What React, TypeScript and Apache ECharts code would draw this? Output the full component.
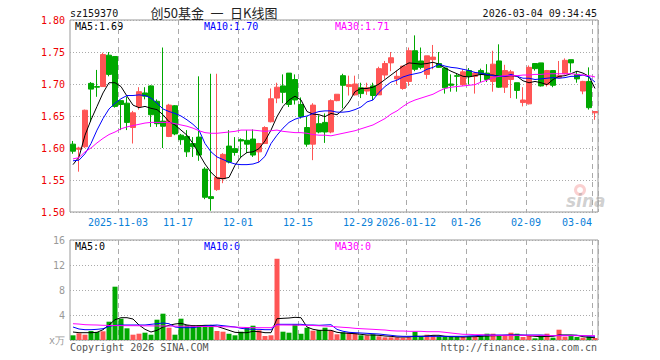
import React, { useEffect, useRef } from "react";
import * as echarts from "echarts";

const dates = [
  "2025-10-22","2025-10-23","2025-10-24","2025-10-27","2025-10-28","2025-10-29","2025-10-30","2025-10-31",
  "2025-11-03","2025-11-04","2025-11-05","2025-11-06","2025-11-07","2025-11-10","2025-11-11","2025-11-12","2025-11-13","2025-11-14",
  "2025-11-17","2025-11-18","2025-11-19","2025-11-20","2025-11-21","2025-11-24","2025-11-25","2025-11-26","2025-11-27","2025-11-28",
  "2025-12-01","2025-12-02","2025-12-03","2025-12-04","2025-12-05","2025-12-08","2025-12-09","2025-12-10","2025-12-11","2025-12-12",
  "2025-12-15","2025-12-16","2025-12-17","2025-12-18","2025-12-19","2025-12-22","2025-12-23","2025-12-24","2025-12-25","2025-12-26",
  "2025-12-29","2025-12-30","2025-12-31","2026-01-05","2026-01-06","2026-01-07","2026-01-08","2026-01-09",
  "2026-01-12","2026-01-13","2026-01-14","2026-01-15","2026-01-16","2026-01-19","2026-01-20","2026-01-21","2026-01-22","2026-01-23",
  "2026-01-26","2026-01-27","2026-01-28","2026-01-29","2026-01-30","2026-02-02","2026-02-03","2026-02-04","2026-02-05","2026-02-06",
  "2026-02-09","2026-02-10","2026-02-11","2026-02-12","2026-02-13","2026-02-24","2026-02-25","2026-02-26","2026-02-27",
  "2026-03-02","2026-03-03","2026-03-04"
];

const opens = [
  1.606,1.598,1.602,1.701,1.696,1.696,1.745,1.743,1.674,1.670,
  1.632,1.665,1.686,1.697,1.673,1.642,1.618,1.666,1.620,1.618,
  1.607,1.617,1.567,1.524,1.535,1.552,1.603,1.599,1.613,1.612,
  1.614,1.594,1.607,1.641,1.678,1.697,1.717,1.707,1.668,1.632,
  1.606,1.638,1.640,1.625,1.674,1.713,1.696,1.683,1.694,1.689,
  1.697,1.683,1.714,1.733,1.708,1.693,1.704,1.752,1.736,1.715,
  1.738,1.732,1.725,1.700,1.713,1.699,1.721,1.712,1.721,1.717,
  1.704,1.736,1.695,1.707,1.702,1.671,1.669,1.732,1.733,1.699,
  1.721,1.710,1.716,1.738,1.715,1.689,1.704,1.655
];
const closes = [
  1.595,1.600,1.659,1.692,1.695,1.746,1.715,1.665,1.668,1.640,
  1.655,1.688,1.681,1.652,1.638,1.634,1.667,1.622,1.613,1.594,
  1.602,1.589,1.523,1.521,1.554,1.590,1.578,1.593,1.611,1.606,
  1.589,1.607,1.632,1.677,1.695,1.687,1.668,1.675,1.649,1.606,
  1.667,1.625,1.625,1.674,1.684,1.698,1.699,1.700,1.685,1.694,
  1.682,1.724,1.732,1.741,1.712,1.728,1.752,1.723,1.726,1.744,
  1.742,1.726,1.694,1.698,1.712,1.719,1.712,1.717,1.715,1.707,
  1.731,1.695,1.721,1.719,1.690,1.675,1.726,1.724,1.697,1.721,
  1.698,1.713,1.737,1.733,1.708,1.704,1.663,1.657
];
const lows = [
  1.591,1.563,1.600,1.641,1.680,1.696,1.712,1.663,1.628,1.628,
  1.607,1.660,1.676,1.633,1.633,1.600,1.617,1.620,1.605,1.586,
  1.586,1.580,1.520,1.502,1.533,1.545,1.576,1.588,1.586,1.592,
  1.586,1.578,1.607,1.640,1.670,1.670,1.664,1.668,1.646,1.602,
  1.581,1.623,1.608,1.623,1.673,1.662,1.682,1.682,1.678,1.683,
  1.675,1.683,1.708,1.720,1.699,1.691,1.697,1.720,1.723,1.708,
  1.723,1.725,1.685,1.688,1.688,1.697,1.699,1.685,1.703,1.703,
  1.688,1.694,1.686,1.678,1.677,1.665,1.668,1.721,1.696,1.696,
  1.695,1.710,1.715,1.718,1.702,1.684,1.660,1.644
];
const highs = [
  1.611,1.602,1.660,1.703,1.722,1.749,1.750,1.743,1.674,1.680,
  1.658,1.695,1.695,1.698,1.676,1.757,1.669,1.667,1.622,1.628,
  1.617,1.712,1.570,1.716,1.716,1.592,1.628,1.617,1.615,1.628,
  1.629,1.608,1.634,1.693,1.702,1.715,1.717,1.715,1.679,1.649,
  1.670,1.651,1.654,1.676,1.684,1.716,1.713,1.713,1.702,1.702,
  1.702,1.727,1.736,1.750,1.721,1.728,1.757,1.776,1.757,1.744,
  1.761,1.750,1.725,1.715,1.716,1.723,1.725,1.719,1.724,1.731,
  1.752,1.762,1.730,1.722,1.702,1.695,1.729,1.732,1.733,1.722,
  1.721,1.736,1.740,1.738,1.720,1.705,1.726,1.657
];
const ma5 = [
  1.574,1.586,1.620,1.644,1.665,1.686,1.702,1.702,1.696,1.681,
  1.667,1.663,1.665,1.662,1.660,1.652,1.641,1.636,1.628,1.620,
  1.607,1.591,1.575,1.562,1.553,1.552,1.554,1.573,1.586,1.593,
  1.594,1.599,1.611,1.628,1.649,1.665,1.675,1.681,1.675,1.657,
  1.653,1.652,1.649,1.654,1.652,1.660,1.672,1.688,1.693,1.693,
  1.695,1.700,1.707,1.714,1.721,1.728,1.733,1.732,1.731,1.732,
  1.734,1.731,1.725,1.720,1.716,1.712,1.711,1.713,1.715,1.714,
  1.714,1.712,1.712,1.713,1.712,1.705,1.702,1.704,1.702,1.699,
  1.707,1.712,1.713,1.716,1.720,1.717,1.712,1.693
];
const ma10 = [
  1.580,1.581,1.591,1.607,1.628,1.646,1.661,1.670,1.677,1.682,
  1.682,1.683,1.682,1.678,1.670,1.661,1.657,1.654,1.650,1.644,
  1.637,1.628,1.607,1.594,1.586,1.582,1.578,1.575,1.574,1.574,
  1.575,1.578,1.587,1.607,1.620,1.631,1.640,1.645,1.648,1.650,
  1.654,1.657,1.658,1.658,1.656,1.656,1.657,1.660,1.664,1.672,
  1.675,1.687,1.696,1.703,1.706,1.711,1.714,1.716,1.718,1.723,
  1.726,1.731,1.728,1.726,1.725,1.723,1.721,1.718,1.717,1.715,
  1.713,1.712,1.712,1.715,1.712,1.709,1.709,1.707,1.708,1.709,
  1.710,1.709,1.710,1.712,1.712,1.714,1.711,1.703
];
const ma30 = [
  1.583,1.585,1.594,1.600,1.608,1.615,1.621,1.625,1.630,1.633,
  1.635,1.637,1.639,1.640,1.640,1.640,1.640,1.638,1.636,1.634,
  1.631,1.627,1.624,1.623,1.623,1.624,1.625,1.626,1.628,1.628,
  1.628,1.627,1.626,1.627,1.628,1.626,1.625,1.624,1.624,1.623,
  1.621,1.620,1.620,1.619,1.621,1.623,1.625,1.627,1.630,1.633,
  1.636,1.641,1.646,1.653,1.658,1.665,1.671,1.675,1.678,1.681,
  1.684,1.689,1.693,1.695,1.696,1.697,1.698,1.699,1.703,1.706,
  1.710,1.712,1.713,1.713,1.713,1.714,1.714,1.715,1.715,1.716,
  1.716,1.716,1.716,1.716,1.715,1.714,1.713,1.711
];
const volumes = [
  0.75,1.07,0.85,1.44,1.28,1.39,2.93,8.53,3.41,1.87,
  0.85,1.01,1.17,0.85,3.25,4.21,1.97,0.85,3.41,2.40,
  2.40,2.40,2.40,2.40,1.44,1.33,1.00,0.75,1.33,2.08,
  2.29,1.55,0.64,0.75,13.0,1.33,1.17,2.50,1.00,1.97,
  1.49,1.60,1.97,1.49,0.91,1.23,1.23,1.12,0.75,0.75,
  0.91,0.59,0.43,0.43,0.43,0.37,0.43,1.33,0.59,0.85,
  0.75,0.59,0.53,0.48,0.48,0.48,0.53,0.48,0.64,1.01,
  1.01,0.75,0.75,1.17,1.01,0.48,0.64,0.27,0.80,1.01,
  0.37,1.65,0.53,0.69,0.48,0.37,0.59,0.32
];
const volMa5 = [
  1.28,1.17,1.17,1.17,1.23,1.65,2.40,3.25,3.57,3.57,
  3.36,2.40,1.71,1.28,1.55,2.08,2.35,2.56,2.67,2.40,
  2.29,2.29,2.35,2.35,2.19,1.87,1.55,1.23,1.17,1.17,
  1.39,1.33,1.17,1.17,3.41,3.47,3.52,3.63,3.57,2.08,
  1.71,1.55,1.55,1.55,1.23,1.12,1.07,1.01,0.91,0.80,
  0.80,0.75,0.64,0.59,0.48,0.48,0.48,0.59,0.59,0.64,
  0.75,0.75,0.59,0.53,0.53,0.48,0.53,0.53,0.59,0.64,
  0.69,0.69,0.75,0.80,0.80,0.75,0.69,0.59,0.53,0.59,
  0.59,0.80,0.80,0.80,0.75,0.53,0.43,0.37
];
const volMa10 = [
  2.08,1.76,1.65,1.65,1.71,1.81,2.19,2.35,2.40,2.40,
  2.40,2.40,2.40,2.51,2.61,2.72,2.61,2.08,1.97,1.97,
  1.97,2.13,2.24,2.35,2.40,2.29,2.19,2.08,1.87,1.76,
  1.71,1.71,1.65,1.65,2.51,2.51,2.51,2.51,2.51,2.40,
  2.40,2.35,2.40,2.45,1.70,1.40,1.23,1.17,1.12,1.07,
  1.01,0.96,0.85,0.75,0.64,0.59,0.59,0.59,0.59,0.59,
  0.59,0.59,0.59,0.59,0.59,0.59,0.64,0.69,0.75,0.80,
  0.80,0.80,0.80,0.80,0.80,0.80,0.80,0.80,0.80,0.75,
  0.69,0.75,0.75,0.75,0.75,0.69,0.64,0.59
];
const volMa30 = [
  2.61,2.55,2.45,2.42,2.40,2.35,2.33,2.31,2.30,2.29,
  2.29,2.28,2.27,2.26,2.25,2.24,2.23,2.22,2.21,2.20,
  2.19,2.18,2.16,2.15,2.14,2.13,2.10,2.07,2.03,2.00,
  1.98,1.97,1.97,1.97,2.40,2.40,2.39,2.38,2.37,2.35,
  2.32,2.28,2.24,2.18,2.10,2.03,1.97,1.87,1.81,1.76,
  1.71,1.65,1.60,1.49,1.44,1.44,1.39,1.39,1.39,1.33,
  1.33,1.33,1.23,1.12,1.01,0.91,0.91,0.85,0.85,0.80,
  0.75,0.75,0.75,0.75,0.75,0.75,0.75,0.75,0.75,0.75,
  0.69,0.69,0.69,0.69,0.69,0.69,0.69,0.69
];

const tickDates = ["2025-11-03","2025-11-17","2025-12-01","2025-12-15","2025-12-29","2026-01-12","2026-01-26","2026-02-09","2026-03-04"];
const tickTexts = ["2025-11-03","11-17","12-01","12-15","12-29","2026-01-12","01-26","02-09","03-04"];

const priceTicks = { min: 1.5, max: 1.8, step: 0.05 };
const volTicks = { min: 0, max: 16, step: 4 };

const title = "创50基金\u2002一\u2002日K线图";
const code = "sz159370";
const stamp = "2026-03-04 09:34:45";

const MONO = "'DejaVu Sans Mono', 'Liberation Mono', monospace";
const RED = "#ff5555";
const GREEN = "#00a800";

export default function App() {
  const ref = useRef<HTMLDivElement>(null);
  useEffect(() => {
    const chart = echarts.init(ref.current!, null, { renderer: "svg" });
    const isTick = (_i: number, v: string) => tickDates.indexOf(v) >= 0;
    const splitLine = { show: true, interval: isTick, lineStyle: { color: "#aaa", type: [5, 4] as any, width: 1 } };
    const txt = (text: string, x: number, y: number, fill: string, font: string, align = "left") => ({
      type: "text", x, y, silent: true,
      style: { text, fill, font, align, textAlign: align, verticalAlign: "middle", textVerticalAlign: "middle" },
    });
    const option: any = {
      animation: false,
      grid: [
        { left: 70, top: 20, width: 528, height: 192, show: true, borderColor: "#999", borderWidth: 1, backgroundColor: "transparent" },
        { left: 70, top: 240, width: 528, height: 100, show: true, borderColor: "#999", borderWidth: 1, backgroundColor: "transparent" },
      ],
      xAxis: [
        {
          type: "category", gridIndex: 0, data: dates, boundaryGap: true,
          axisLine: { show: false }, axisTick: { show: false },
          axisLabel: {
            interval: isTick, margin: 5, color: "#0a80d8", fontFamily: MONO, fontSize: 10, padding: [0, 6, 0, 0],
            formatter: (v: string) => {
              const k = tickDates.indexOf(v);
              if (k < 0) return "";
              return k === tickDates.length - 1 ? "{e|" + tickTexts[k] + "}" : tickTexts[k];
            },
            rich: { e: { padding: [0, 30, 0, 0], color: "#0a80d8", fontFamily: MONO, fontSize: 10 } },
          },
          splitLine,
        },
        {
          type: "category", gridIndex: 1, data: dates, boundaryGap: true,
          axisLine: { show: false }, axisTick: { show: false }, axisLabel: { show: false },
          splitLine,
        },
      ],
      yAxis: [
        {
          type: "value", gridIndex: 0, min: priceTicks.min, max: priceTicks.max, interval: priceTicks.step,
          axisLine: { show: false }, axisTick: { show: false },
          axisLabel: { color: "#ee0000", fontFamily: MONO, fontSize: 10, margin: 5, formatter: (v: number) => v.toFixed(2) },
          splitLine: { show: true, lineStyle: { color: "#aaa", type: [1, 2] as any } },
        },
        {
          type: "value", gridIndex: 1, min: volTicks.min, max: volTicks.max, interval: volTicks.step,
          axisLine: { show: false }, axisTick: { show: false },
          axisLabel: { color: "#999", fontFamily: MONO, fontSize: 10, margin: 5, formatter: (v: number) => (v === 0 ? "x万" : String(v)) },
          splitLine: { show: true, lineStyle: { color: "#aaa", type: [1, 2] as any } },
        },
      ],
      series: [
        {
          type: "candlestick", xAxisIndex: 0, yAxisIndex: 0, barWidth: 5, silent: true,
          data: dates.map((_, i) => [opens[i], closes[i], lows[i], highs[i]]),
          itemStyle: { color: RED, color0: GREEN, borderColor: RED, borderColor0: GREEN, borderWidth: 1 },
        },
        { type: "line", xAxisIndex: 0, yAxisIndex: 0, data: ma5, showSymbol: false, silent: true, lineStyle: { color: "#000", width: 1 } },
        { type: "line", xAxisIndex: 0, yAxisIndex: 0, data: ma10, showSymbol: false, silent: true, lineStyle: { color: "#0000ff", width: 1 } },
        { type: "line", xAxisIndex: 0, yAxisIndex: 0, data: ma30, showSymbol: false, silent: true, lineStyle: { color: "#ff00ff", width: 1 } },
        {
          type: "bar", xAxisIndex: 1, yAxisIndex: 1, barWidth: 5, silent: true,
          data: volumes.map((v, i) => ({ value: v, itemStyle: { color: closes[i] >= opens[i] ? RED : GREEN } })),
        },
        { type: "line", xAxisIndex: 1, yAxisIndex: 1, data: volMa5, showSymbol: false, silent: true, lineStyle: { color: "#000", width: 1 } },
        { type: "line", xAxisIndex: 1, yAxisIndex: 1, data: volMa10, showSymbol: false, silent: true, lineStyle: { color: "#0000ff", width: 1 } },
        { type: "line", xAxisIndex: 1, yAxisIndex: 1, data: volMa30, showSymbol: false, silent: true, lineStyle: { color: "#ff00ff", width: 1 } },
      ],
      graphic: [
        txt(code, 70, 13, "#111", "10px " + MONO),
        txt(title, 214, 12, "#222", "13px 'Noto Sans CJK SC', sans-serif", "center"),
        txt(stamp, 597, 13, "#111", "10px " + MONO, "right"),
        txt("MA5:1.69", 75, 26, "#000", "10px " + MONO),
        txt("MA10:1.70", 204, 26, "#0000ff", "10px " + MONO),
        txt("MA30:1.71", 335, 26, "#ff00ff", "10px " + MONO),
        txt("MA5:0", 75, 246, "#000", "10px " + MONO),
        txt("MA10:0", 204, 246, "#0000ff", "10px " + MONO),
        txt("MA30:0", 335, 246, "#ff00ff", "10px " + MONO),
        txt("Copyright 2026 SINA.COM", 70, 347, "#555", "10px " + MONO),
        txt("http://finance.sina.com.cn", 597, 347, "#555", "10px " + MONO, "right"),
        { type: "ring", silent: true, shape: { cx: 580, cy: 190, r: 6, r0: 3 }, style: { fill: "rgba(240,120,120,0.35)" } },
        txt("sina", 566, 201, "rgba(150,150,150,0.45)", "italic bold 17px 'DejaVu Sans', sans-serif"),
      ],
    };
    chart.setOption(option);
    return () => chart.dispose();
  }, []);
  return <div ref={ref} style={{ position: "absolute", left: 0, top: 0, width: 660, height: 360 }} />;
}
